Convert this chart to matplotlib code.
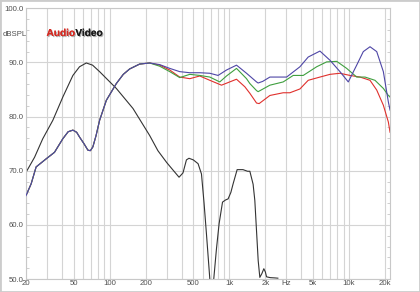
import numpy as np
import matplotlib
matplotlib.use("Agg")
import matplotlib.pyplot as plt
import matplotlib.ticker as mticker
import matplotlib.patheffects as pe
from matplotlib.patches import Rectangle

# --- data (Hz, dBSPL) ---
low_f = [20, 22.1, 24.3, 29.5, 34.6, 40.6, 45, 49.3, 53, 56.1, 61, 65.8, 69, 72.4,
         77, 82.4, 93.8, 113.7, 130, 147, 178, 216]
low_db = [65.4, 67.6, 70.7, 72.2, 73.4, 75.9, 77.2, 77.5, 77.1, 76.2, 75.0, 73.8, 73.7, 74.4,
          76.5, 79.3, 83.0, 86.1, 87.8, 88.8, 89.7, 89.9]

blue_f = [262, 318, 385, 467, 566, 687, 805, 947, 1148, 1392, 1688, 1740, 1900, 2182,
          3010, 3889, 4560, 5716, 6934, 8402, 9862, 11590, 13158, 14978, 17040, 19357,
          21313, 22020]
blue_db = [89.6, 88.9, 88.3, 88.1, 88.1, 88.0, 87.6, 88.6, 89.5, 88.0, 86.4, 86.2, 86.5, 87.3,
           87.3, 89.2, 91.0, 92.1, 90.4, 88.3, 86.4, 89.5, 92.0, 92.9, 92.0, 88.3,
           82.7, 81.2]

green_f = [262, 318, 385, 467, 566, 687, 832, 947, 1148, 1392, 1484, 1688, 1740, 2182,
           2818, 3417, 4144, 5365, 6501, 7890, 9562, 11590, 13608, 16483, 19357, 21313, 22020]
green_db = [89.3, 88.3, 87.2, 87.8, 87.6, 87.3, 86.4, 87.5, 88.9, 87.0, 86.1, 84.8, 84.6, 85.8,
            86.4, 87.6, 87.6, 89.2, 90.1, 90.2, 88.9, 87.3, 87.3, 86.7, 85.2, 83.9, 83.6]

red_f = [262, 318, 385, 467, 566, 687, 860, 1148, 1348, 1484, 1688, 1774, 2182, 2818,
         3206, 3889, 4560, 5716, 6934, 8402, 10187, 12361, 14978, 17040, 19357, 21313, 22020]
red_db = [89.5, 88.6, 87.3, 87.0, 87.5, 86.7, 85.8, 86.9, 85.5, 84.3, 82.5, 82.4, 83.9, 84.4,
          84.4, 85.1, 86.7, 87.3, 87.8, 88.0, 87.6, 87.3, 86.7, 84.9, 82.1, 79.0, 77.1]

black_f = [20, 23.6, 27.6, 33.5, 40.6, 49.3, 56, 63.8, 72, 82.4, 113.7, 156.6, 216, 253,
           300, 339, 380, 410, 438, 460, 500, 548, 585, 615, 644, 687, 700, 730, 741,
           780, 821, 877, 930, 977, 1030, 1076, 1162, 1300, 1420, 1484, 1580, 1633,
           1742, 1798, 1870, 1942, 2000, 2046, 2200, 2400, 2544]
black_db = [69.7, 72.5, 75.9, 79.3, 83.6, 87.6, 89.2, 89.9, 89.5, 88.3, 85.2, 81.5, 76.5, 73.7,
            71.5, 70.1, 68.8, 69.6, 72.0, 72.3, 72.0, 71.3, 69.4, 64.0, 58.3, 50.0, 45.0, 45.0, 50.0,
            55.5, 60.2, 64.2, 64.6, 64.8, 66.0, 67.6, 70.2, 70.2, 69.9, 69.9, 67.5, 64.5,
            53.4, 50.3, 51.0, 51.9, 51.3, 50.4, 50.25, 50.2, 50.15]

xtick_vals = [20, 50, 100, 200, 500, 1000, 2000, 3000, 5000, 10000, 20000]
xtick_labels = ['20', '50', '100', '200', '500', '1k', '2k', 'Hz', '5k', '10k', '20k']
ytick_vals = [50, 60, 70, 80, 90, 100]

fig = plt.figure(figsize=(4.2, 2.92), dpi=100)
ax = fig.add_axes([26 / 420, 1 - 279 / 292, 364 / 420, 270.7 / 292])

lw = 0.8
ax.plot(black_f, black_db, color='#333333', lw=lw)
ax.plot(low_f + blue_f, low_db + blue_db, color='#4e46a6', lw=lw, zorder=3)
ax.plot(low_f + green_f, low_db + green_db, color='#3f9f3f', lw=lw, zorder=2.5)
ax.plot(low_f + red_f, low_db + red_db, color='#e0302c', lw=lw, zorder=2.4)

ax.set_xscale('log')
ax.set_xlim(20, 22000)
ax.set_ylim(50, 100)

ax.xaxis.set_major_locator(mticker.FixedLocator(xtick_vals))
ax.xaxis.set_major_formatter(mticker.FixedFormatter(xtick_labels))
ax.xaxis.set_minor_locator(mticker.LogLocator(base=10, subs=np.arange(1, 10)))
ax.xaxis.set_minor_formatter(mticker.NullFormatter())
ax.set_yticks(ytick_vals)
ax.yaxis.set_major_formatter(mticker.FormatStrFormatter('%.1f'))
ax.yaxis.set_minor_locator(mticker.MultipleLocator(2))

for t in ax.get_xticklabels() + ax.get_yticklabels():
    t.set_fontfamily('Liberation Sans')
    t.set_fontsize(5.6)
    t.set_color('#505050')

ax.tick_params(axis='x', which='both', length=0, pad=1)
ax.tick_params(axis='y', which='major', length=0, pad=2)
ax.tick_params(axis='y', which='minor', length=2, direction='in', left=True, right=True,
               color='#c8c8c8', width=0.6)

ax.grid(True, axis='x', which='both', color='#d4d4d4', lw=0.8)
ax.grid(True, axis='y', which='major', color='#d4d4d4', lw=0.8)
ax.set_axisbelow(True)
for s in ax.spines.values():
    s.set_color('#c8c8c8')
    s.set_linewidth(0.8)

fig.text(3 / 420, 1 - 34.5 / 292, 'dBSPL', fontsize=5.6, family='Liberation Sans',
         color='#505050', va='center', ha='left')

# logo: fit the two words into ~56 px like the original
shadow = [pe.withSimplePatchShadow(offset=(0.8, -0.8), shadow_rgbFace='#777777', alpha=0.6),
          pe.Normal()]
logo_x, logo_y, logo_w = 46.5, 36, 56.0
t1 = fig.text(logo_x / 420, 1 - logo_y / 292, 'Audio', fontsize=8, family='Liberation Sans',
              weight='bold', color='#d42a22', va='baseline', ha='left', path_effects=shadow)
t2 = fig.text(0, 1 - logo_y / 292, 'Video', fontsize=8, family='Liberation Sans',
              weight='bold', color='#1a1a1a', va='baseline', ha='left', path_effects=shadow)
fig.canvas.draw()
r = fig.canvas.get_renderer()
w = t1.get_window_extent(r).width + t2.get_window_extent(r).width
fs = 8 * logo_w / w
t1.set_fontsize(fs)
t2.set_fontsize(fs)
fig.canvas.draw()
t2.set_x(t1.get_window_extent(r).x1 / 420)

fig.patches.append(Rectangle((0, 0), 1, 1, transform=fig.transFigure, fill=False,
                             edgecolor='#cccccc', lw=2))

fig.savefig('out.png', dpi=100)
